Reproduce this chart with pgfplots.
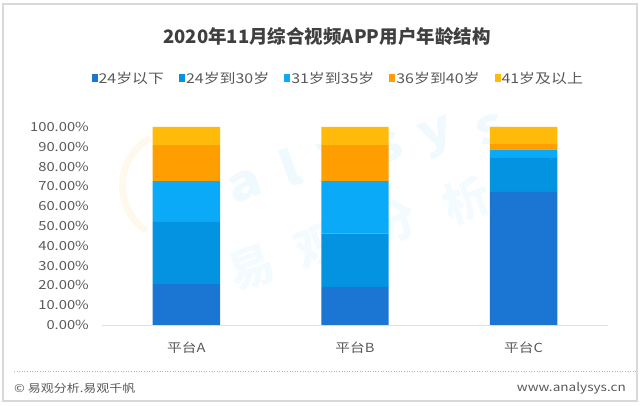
\documentclass[border=0pt]{standalone}
\usepackage{pgfplots}
\pgfplotsset{compat=1.18}
\usepackage{fontspec}
\setmainfont[FakeStretch=1.18]{Noto Sans CJK SC}
\newfontfamily\titlefont{Noto Sans CJK SC}
\definecolor{cA}{HTML}{1B76D3}
\definecolor{cB}{HTML}{0493E0}
\definecolor{cC}{HTML}{0BAAF8}
\definecolor{cD}{HTML}{FF9E00}
\definecolor{cE}{HTML}{FFBA0A}
\definecolor{txt}{HTML}{595959}
\definecolor{ttl}{HTML}{3F3F3F}
\begin{document}
\begin{tikzpicture}[x=1pt,y=1pt]
\path[use as bounding box] (0,0) rectangle (640,406);
\draw[gray!30, line width=1.2pt] (3,5) rectangle (637,402);
% faint watermark, one glyph per node
\begin{scope}[every node/.style={rotate=20, text=cC!6, inner sep=0pt, font=\fontsize{48}{48}\selectfont\bfseries}]
\node at (192,204) {n};
\node at (245,220) {a};
\node at (290,238) {l};
\node at (337,248) {y};
\node at (388,258) {s};
\node at (438,268) {y};
\node at (490,276) {s};
\end{scope}
\begin{scope}[every node/.style={rotate=20, text=cC!5, inner sep=0pt, font=\titlefont\fontsize{46}{46}\selectfont\bfseries}]
\node at (252,138) {易};
\node at (318,160) {观};
\node at (393,184) {分};
\node at (466,206) {析};
\end{scope}
\draw[cD!7, line width=7pt] (150,268) arc[start angle=120, end angle=235, radius=55];
% title
\node[font=\titlefont\fontsize{18.5}{20}\selectfont\bfseries, text=ttl] at (327,370) {2020年11月综合视频APP用户年龄结构};
\begin{axis}[
  at={(102pt,81pt)}, anchor=south west,
  scale only axis, width=506pt, height=198pt,
  ymin=0, ymax=100, xmin=-0.5, xmax=2.5,
  ybar stacked, bar width=0.4,
  xtick={0,1,2}, xticklabels={平台A,平台B,平台C},
  ytick={0,10,...,100},
  yticklabel={\pgfmathprintnumber[fixed,fixed zerofill,precision=2]{\tick}\%},
  /pgf/number format/assume math mode=true,
  major tick length=0pt,
  axis y line*=left,
  axis x line*=bottom,
  y axis line style={draw=none},
  x axis line style={draw=gray!25, line width=0.8pt, -},
  ytick style={draw=none}, xtick style={draw=none},
  yticklabel style={font=\fontsize{12.5}{14}\selectfont, text=txt, anchor=east, inner sep=0pt, xshift=-13pt},
  xticklabel style={font=\fontsize{12.5}{14}\selectfont, text=txt, anchor=center, inner sep=0pt, yshift=-23pt},
  legend columns=5,
  legend style={at={(0.466,1.247)}, anchor=center, draw=none, fill=none,
    font=\fontsize{13.5}{15}\selectfont, text=txt,
    /tikz/every even column/.append style={column sep=14pt},
    nodes={inner sep=1pt}},
  legend image code/.code={\fill[#1] (0pt,-4pt) rectangle (6pt,4pt);},
]
\addplot[fill=cA, draw=none] coordinates {(0,20.7) (1,19.3) (2,67.2)};
\addplot[fill=cB, draw=none] coordinates {(0,31.4) (1,26.9) (2,17.2)};
\addplot[fill=cC, draw=none] coordinates {(0,20.5) (1,26.4) (2,4.2)};
\addplot[fill=cD, draw=none] coordinates {(0,18.2) (1,18.2) (2,2.8)};
\addplot[fill=cE, draw=none] coordinates {(0,9.2) (1,9.2) (2,8.6)};
\legend{24岁以下,24岁到30岁,31岁到35岁,36岁到40岁,41岁及以上}
\end{axis}
\draw[gray!60, dotted, line width=0.6pt] (14,35) -- (636,35);
\node[anchor=west, text=txt, font=\fontsize{11}{13}\selectfont, inner sep=0pt] at (14,18) {© 易观分析.易观千帆};
\node[anchor=east, text=txt, font=\fontsize{11.5}{13}\selectfont, inner sep=0pt] at (626,18) {www.analysys.cn};
\end{tikzpicture}
\end{document}
